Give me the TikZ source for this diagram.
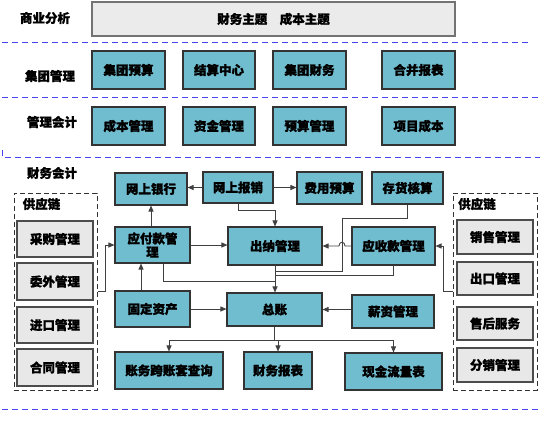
\documentclass[tikz,border=0pt]{standalone}
\usepackage{fontspec}
\newfontfamily\cjk{Noto Sans CJK SC}[BoldFeatures={FakeBold=1.2}]
\usetikzlibrary{arrows.meta}
\definecolor{tealc}{RGB}{113,189,208}
\definecolor{grayc}{RGB}{232,232,232}
\definecolor{topc}{RGB}{235,235,235}
\definecolor{bluel}{RGB}{70,70,245}
\definecolor{linec}{RGB}{64,64,64}
\begin{document}
\begin{tikzpicture}[x=1pt,y=-1pt,
  txt/.style={font=\cjk\bfseries\fontsize{12.5}{14}\selectfont},
  tb/.style={txt, draw=black!80, line width=1.1pt, fill=tealc, inner sep=0pt, align=center},
  gb/.style={txt, draw=black!70, line width=1.1pt, fill=grayc, inner sep=0pt, align=center},
  dbox/.style={draw=black!80, line width=1pt, dash pattern=on 5pt off 3pt},
  lab/.style={txt, inner sep=0pt},
  conn/.style={draw=linec, line width=0.9pt},
  arr/.style={conn, -{Triangle[length=6pt,width=5pt]}},
  bdash/.style={draw=bluel, line width=1pt, dash pattern=on 6pt off 4pt}]
\useasboundingbox (0,0) rectangle (543,420);

% top area
\node[lab] (l1) at (45,18) {商业分析};
\node[gb, draw=black!55, fill=topc, minimum width=363pt, minimum height=34pt] (top) at (273.5,19) {财务主题\quad 成本主题};
\draw[bdash] (2,43) -- (528,43);

\node[lab] (l2) at (50,76) {集团管理};
\node[tb, minimum width=73pt, minimum height=38pt] (jt1) at (128.5,70) {集团预算};
\node[tb, minimum width=72pt, minimum height=38pt] (jt2) at (219,70) {结算中心};
\node[tb, minimum width=73pt, minimum height=38pt] (jt3) at (309.5,70) {集团财务};
\node[tb, minimum width=73pt, minimum height=38pt] (jt4) at (418.5,70) {合并报表};
\draw[bdash] (2,97) -- (538,97);

\node[lab] (l3) at (52,122) {管理会计};
\node[tb, minimum width=73pt, minimum height=38pt] (gl1) at (128.5,126) {成本管理};
\node[tb, minimum width=72pt, minimum height=38pt] (gl2) at (219,126) {资金管理};
\node[tb, minimum width=73pt, minimum height=38pt] (gl3) at (309.5,126) {预算管理};
\node[tb, minimum width=73pt, minimum height=38pt] (gl4) at (418.5,126) {项目成本};
\draw[bdash] (2,150) -- (2,157) -- (540,157);

\node[lab] (l4) at (52,173) {财务会计};

% main boxes
\node[tb, minimum width=72pt, minimum height=32pt] (wyh) at (151,189) {网上银行};
\node[tb, minimum width=70pt, minimum height=31pt] (wbx) at (238,187.5) {网上报销};
\node[tb, minimum width=65pt, minimum height=32pt] (fyys) at (329.5,188) {费用预算};
\node[tb, minimum width=71pt, minimum height=32pt] (chhs) at (407.5,188) {存货核算};
\node[tb, minimum width=75pt, minimum height=36pt, font=\cjk\bfseries\fontsize{12.5}{13.5}\selectfont] (yfk) at (152.5,245) {应付款管\\理};
\node[tb, minimum width=94pt, minimum height=38pt] (cn) at (275,246) {出纳管理};
\node[tb, minimum width=83pt, minimum height=38pt] (ysk) at (393.5,246) {应收款管理};
\node[tb, minimum width=75pt, minimum height=36pt] (gdzc) at (152.5,309) {固定资产};
\node[tb, minimum width=95pt, minimum height=33pt] (zz) at (274.5,309.5) {总账};
\node[tb, minimum width=82pt, minimum height=33pt] (xz) at (393,311.5) {薪资管理};
\node[tb, minimum width=108pt, minimum height=37pt] (zwkz) at (169,370.5) {账务跨账套查询};
\node[tb, minimum width=68pt, minimum height=37pt] (cwbb) at (278,370.5) {财务报表};
\node[tb, minimum width=97pt, minimum height=37pt] (xjll) at (393.5,371.5) {现金流量表};

% supply chains
\node[dbox, minimum width=83pt, minimum height=197pt] (lsc) at (55.5,291.5) {};
\node[lab] (lscl) at (41.5,204) {供应链};
\node[gb, minimum width=76pt, minimum height=36pt] (cg) at (55,239) {采购管理};
\node[gb, minimum width=76pt, minimum height=37pt] (ww) at (55,281.5) {委外管理};
\node[gb, minimum width=76pt, minimum height=36pt] (jk) at (55,325) {进口管理};
\node[gb, minimum width=76pt, minimum height=37pt] (ht) at (55,367.5) {合同管理};

\node[dbox, minimum width=84pt, minimum height=197pt] (rsc) at (495,291.5) {};
\node[lab] (rscl) at (477,204) {供应链};
\node[gb, minimum width=76pt, minimum height=34pt] (xs) at (495,237) {销售管理};
\node[gb, minimum width=76pt, minimum height=33pt] (ck) at (495,278.5) {出口管理};
\node[gb, minimum width=76pt, minimum height=33pt] (sh) at (495,323.5) {售后服务};
\node[gb, minimum width=76pt, minimum height=34pt] (fx) at (495,365) {分销管理};

\draw[bdash] (2,409) -- (540,409);

% connectors
\draw[arr] (wbx.west) -- (wbx.west -| wyh.east);
\draw[arr] (wbx.east) -- (wbx.east -| fyys.west);
\draw[arr] (wbx.south) |- (275,210) -- (cn.north);
\draw[arr] (wyh.south |- yfk.north) -- (wyh.south);
\draw[arr] (yfk.east) -- (yfk.east -| cn.west);
\draw[conn] ([xshift=10.5pt]yfk.south) |- (275,281);
\draw[arr] (cn.south) -- (cn.south |- zz.north);
\draw[arr] ([xshift=-11.5pt]gdzc.north) -- ([xshift=-11.5pt]yfk.south);
\draw[arr] (gdzc.east) -- (gdzc.east -| zz.west);
\draw[arr] (xz.west |- zz.east) -- (zz.east);
\draw[arr] (ysk.west) -- (345,246) .. controls (345,241) and (339,241) .. (339,246) -- (cn.east);
\draw[conn] (chhs.south) |- (342,218) -- (342,271) -- (275,271);
\draw[conn] (ysk.south) |- (275,275);
\draw[arr] (lsc.east) -- (105,291.5) |- (yfk.west);
\draw[arr] (rsc.west) -- (443,291.5) |- (ysk.east);
\coordinate (hb) at (274.5,340);
\draw[conn] (zz.south) -- (hb);
\draw[arr] (hb) -| (zwkz.north);
\draw[arr] (hb) -| (cwbb.north);
\draw[arr] (hb) -| (xjll.north);
\end{tikzpicture}
\end{document}
